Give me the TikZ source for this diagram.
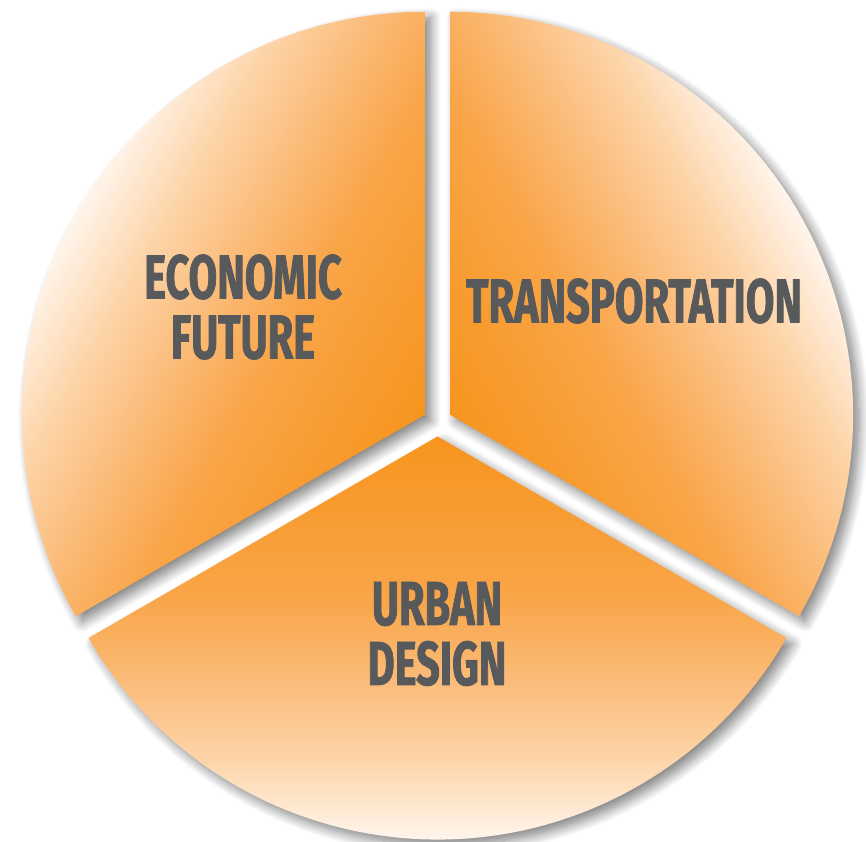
\documentclass[tikz,border=0pt]{standalone}
\usepackage{fontspec}
\newfontfamily\labelfont{Fira Sans}[FakeStretch=0.67, FakeBold=1.2]
\usetikzlibrary{shadows.blur}
\definecolor{txt}{HTML}{58595B}
\definecolor{oA}{HTML}{F7941D}
\definecolor{oB}{HTML}{F9A548}
\definecolor{oC}{HTML}{FBBB78}
\definecolor{oD}{HTML}{FDD5AA}
\definecolor{oE}{HTML}{FFF6EE}
\pgfdeclareverticalshading{slicegrad}{100bp}{color(0bp)=(oA); color(25bp)=(oA); color(45bp)=(oB); color(55bp)=(oC); color(65bp)=(oD); color(75bp)=(oE); color(100bp)=(oE)}
\tikzset{
  lbl/.style={font=\labelfont\bfseries\fontsize{62}{60}\selectfont, text=txt, align=center, inner sep=0pt},
  sliceshadow/.style={blur shadow={shadow xshift=6pt, shadow yshift=-6pt, shadow blur radius=10pt, shadow blur steps=12, shadow opacity=50}}
}
\begin{document}
\begin{tikzpicture}[x=1pt,y=1pt]
\useasboundingbox (0,0) rectangle (866,841);
\def\R{403}
% shadows
\foreach \cx/\cy/\a in {424.94/426.25/90, 450.06/426.25/-30, 437.5/404.5/210}{
  \path[sliceshadow] (\cx,\cy) -- ++(\a:\R) arc[start angle=\a, end angle=\a+120, radius=\R] -- cycle;
}
% slices
\foreach \cx/\cy/\a in {424.94/426.25/90, 450.06/426.25/-30, 437.5/404.5/210}{
  \begin{scope}
    \clip (\cx,\cy) -- ++(\a:\R) arc[start angle=\a, end angle=\a+120, radius=\R] -- cycle;
    \begin{scope}[transform canvas={shift={(\cx,\cy)}, rotate=\a-30}]
      \shade[shading=slicegrad] (-420,-2) rectangle (420,405);
    \end{scope}
  \end{scope}
}
\node[lbl] (econ) at (243,534) {ECONOMIC\\FUTURE};
\node[lbl] (trans) at (634,540) {TRANSPORTATION};
\node[lbl] (urban) at (437,207) {URBAN\\DESIGN};
\end{tikzpicture}
\end{document}
